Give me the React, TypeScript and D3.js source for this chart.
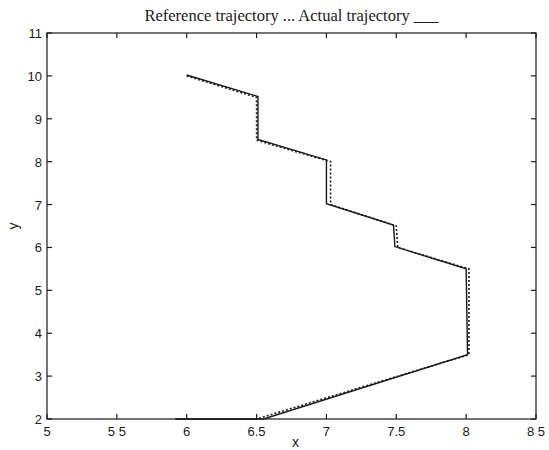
import React, { useEffect, useRef } from "react";
import * as d3 from "d3";

// reference trajectory (dotted)
const refX = [6, 6.5, 6.5, 7.03, 7.03, 7.5, 7.51, 8.02, 8.02, 6.5, 5.92];
const refY = [10, 9.5, 8.5, 8, 7, 6.5, 6, 5.5, 3.5, 2, 2];
// actual trajectory (solid)
const actX = [6, 6.51, 6.51, 7, 7, 7.48, 7.49, 8, 8.01, 6.55, 5.92];
const actY = [10.02, 9.52, 8.52, 8.04, 7.02, 6.52, 6.02, 5.5, 3.5, 2, 2];

const xTicks = [5, 5.5, 6, 6.5, 7, 7.5, 8, 8.5];
const xTickLabels = ["5", "5 5", "6", "6.5", "7", "7.5", "8", "8 5"];
const yTicks = [2, 3, 4, 5, 6, 7, 8, 9, 10, 11];

const App = () => {
  const chart = useRef(null);

  useEffect(() => {
    const width = 549;
    const height = 450;
    const margin = { top: 33, right: 13, bottom: 31, left: 47 };

    const svg = d3.select(chart.current);
    svg.selectAll("*").remove();

    const x = d3.scaleLinear()
      .domain([5, 8.5])
      .range([margin.left, width - margin.right]);

    const y = d3.scaleLinear()
      .domain([2, 11])
      .range([height - margin.bottom, margin.top]);

    const ink = "#1a1a1a";
    const sans = "Liberation Sans, Arial, sans-serif";

    // box
    svg.append("rect")
      .attr("x", x(5)).attr("y", y(11))
      .attr("width", x(8.5) - x(5)).attr("height", y(2) - y(11))
      .attr("fill", "none").attr("stroke", ink).attr("stroke-width", 1.2);

    // ticks inward on all sides
    const tl = 5;
    const g = svg.append("g").attr("stroke", ink).attr("stroke-width", 1.2);
    xTicks.forEach(t => {
      g.append("line").attr("x1", x(t)).attr("x2", x(t)).attr("y1", y(2)).attr("y2", y(2) - tl);
      g.append("line").attr("x1", x(t)).attr("x2", x(t)).attr("y1", y(11)).attr("y2", y(11) + tl);
    });
    yTicks.forEach(t => {
      g.append("line").attr("y1", y(t)).attr("y2", y(t)).attr("x1", x(5)).attr("x2", x(5) + tl);
      g.append("line").attr("y1", y(t)).attr("y2", y(t)).attr("x1", x(8.5)).attr("x2", x(8.5) - tl);
    });

    // tick labels
    svg.append("g").selectAll("text").data(xTicks).join("text")
      .attr("x", d => x(d)).attr("y", y(2) + 17)
      .attr("text-anchor", "middle")
      .attr("font-family", sans).attr("font-size", 13).attr("fill", ink)
      .text((d, i) => xTickLabels[i]);

    svg.append("g").selectAll("text").data(yTicks).join("text")
      .attr("x", x(5) - 5).attr("y", d => y(d) + 5)
      .attr("text-anchor", "end")
      .attr("font-family", sans).attr("font-size", 13).attr("fill", ink)
      .text(d => d);

    // axis labels
    svg.append("text")
      .attr("x", (x(5) + x(8.5)) / 2 + 4).attr("y", y(2) + 28)
      .attr("text-anchor", "middle")
      .attr("font-family", sans).attr("font-size", 14).attr("fill", ink)
      .text("x");

    svg.append("text")
      .attr("transform", `translate(18,${(y(2) + y(11)) / 2}) rotate(-90)`)
      .attr("text-anchor", "middle")
      .attr("font-family", sans).attr("font-size", 14).attr("fill", ink)
      .text("y");

    // title
    svg.append("text")
      .attr("x", (x(5) + x(8.5)) / 2).attr("y", 21)
      .attr("text-anchor", "middle")
      .attr("font-family", "Liberation Serif, Times New Roman, serif").attr("font-size", 16.5).attr("fill", ink)
      .text("Reference trajectory ... Actual trajectory ___");

    const line = d3.line<number>()
      .x(d => x(d[0]))
      .y(d => y(d[1]));

    svg.append("path")
      .datum(actX.map((v, i) => [v, actY[i]]))
      .attr("d", line)
      .attr("fill", "none").attr("stroke", ink).attr("stroke-width", 1.4);

    svg.append("path")
      .datum(refX.map((v, i) => [v, refY[i]]))
      .attr("d", line)
      .attr("fill", "none").attr("stroke", ink).attr("stroke-width", 1.6)
      .attr("stroke-dasharray", "2,2");
  }, []);

  return (
    <div style={{ position: "absolute", left: 0, top: 0, background: "#fff" }}>
      <svg ref={chart} width={549} height={450} />
    </div>
  );
};

export default App;
